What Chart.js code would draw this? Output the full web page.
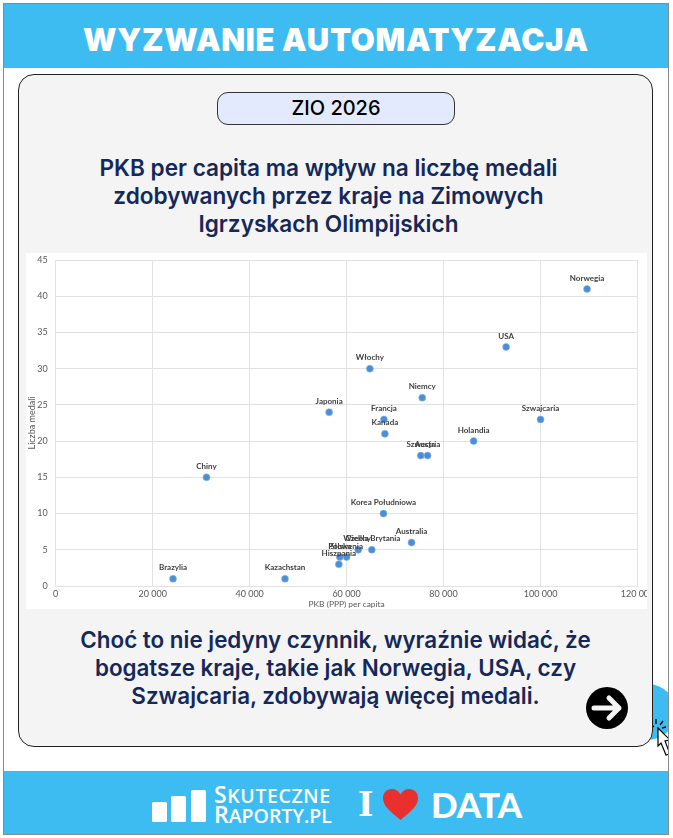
<!DOCTYPE html>
<html lang="pl">
<head>
<meta charset="UTF-8">
<title>Wyzwanie automatyzacja</title>
<script src="https://cdn.jsdelivr.net/npm/chart.js@4"></script>
<style>
    html, body { margin:0; padding:0; background:#fff; }
    #page { position:relative; width:673px; height:838px; overflow:hidden; font-family:Inter, sans-serif; }
    #page > * { position:absolute; box-sizing:border-box; }
    #frame { left:3px; top:3px; width:666px; height:832px; border:1px solid #8a8a8a; }
    #head { left:4px; top:4px; width:664px; height:64px; background:#3dbcf1; color:#fff; text-align:center;
            font-size:31px; font-weight:900; letter-spacing:0.7px; line-height:72px; white-space:nowrap; }
    #foot { left:4px; top:771px; width:664px; height:63px; background:#3dbcf1; }
    #clip { left:4px; top:670px; width:664px; height:95px; overflow:hidden; }
    #bubble { position:absolute; left:616px; top:14px; width:56px; height:56px; border-radius:50%; background:#3dbcf1; }
    #cursor { position:absolute; left:646px; top:48px; }
    #panel { left:18px; top:74px; width:635px; height:673px; background:#f4f4f4; border:1.5px solid #222; border-radius:16px; }
    #pill { left:217px; top:92px; width:238px; height:33px; background:#e4eafd; border:1.5px solid #333; border-radius:11px;
            text-align:center; font-size:20px; font-weight:500; line-height:31px; color:#000; }
    .txt { text-align:center; color:#14285a; font-weight:600; white-space:nowrap; }
    #t1 { left:11px; width:635px; top:154px; font-size:22.6px; line-height:28px; }
    #t2 { left:18px; width:635px; top:626px; font-size:22.4px; line-height:28px; }
    #box { left:26px; top:253px; width:621px; height:356px; background:#fff; }
    #chart1 { filter:blur(0.3px); }
    #arrow { left:586px; top:687px; }
    #bars { left:152px; top:790px; }
    #logo { left:214px; top:785px; color:#fff; font-family:"Open Sans", sans-serif; font-weight:600; font-size:19.5px; line-height:18px; white-space:nowrap; }
    #logo b { font-weight:600; font-size:23px; }
    #logo span { letter-spacing:0.6px; }
    #love { left:358px; top:783px; color:#fff; font-family:"DejaVu Serif", serif; font-weight:700; font-size:33px; line-height:44px; white-space:nowrap; }
    #heart { left:382px; top:788px; }
    #data { left:431px; top:782px; color:#fff; font-family:Lato, sans-serif; font-weight:900; font-size:35px; line-height:44px; white-space:nowrap; }
</style>
</head>
<body>
<div id="page">
    <div id="clip">
        <div id="bubble"></div>
        <svg id="cursor" width="24" height="40" viewBox="0 0 24 40">
            <path d="M8 10L20 22L15 23L20 36L16 37L11 25L8 28Z" fill="#fff" stroke="#000" stroke-width="1.2"/>
            <path d="M6 1V6M1 6L4 9M13 3L10 7M16 9L12 10" stroke="#000" stroke-width="1.3" fill="none"/>
        </svg>
    </div>
    <div id="head">WYZWANIE AUTOMATYZACJA</div>
    <div id="foot"></div>
    <div id="frame"></div>
    <div id="panel"></div>
    <div id="pill">ZIO 2026</div>
    <div class="txt" id="t1">PKB per capita ma wpływ na liczbę medali<br>zdobywanych przez kraje na Zimowych<br>Igrzyskach Olimpijskich</div>
    <div id="box"><canvas id="chart1" width="621" height="356"></canvas></div>
    <div class="txt" id="t2">Choć to nie jedyny czynnik, wyraźnie widać, że<br>bogatsze kraje, takie jak Norwegia, USA, czy<br>Szwajcaria, zdobywają więcej medali.</div>
    <svg id="arrow" width="42" height="42" viewBox="0 0 42 42">
        <circle cx="21" cy="21" r="21" fill="#000"/>
        <path d="M8 21H33M23 11L33 21L23 31" fill="none" stroke="#f4f4f4" stroke-width="5" stroke-linecap="round" stroke-linejoin="round"/>
    </svg>
    <svg id="bars" width="54" height="32" viewBox="0 0 54 32">
        <rect x="0" y="12" width="15" height="20" rx="1.5" fill="#fff"/>
        <rect x="19" y="6" width="15" height="26" rx="1.5" fill="#fff"/>
        <rect x="39" y="0" width="15" height="32" rx="1.5" fill="#fff"/>
    </svg>
    <div id="logo"><span><b>S</b>KUTECZNE</span><br><b>R</b>APORTY.PL</div>
    <div id="love">I</div>
    <svg id="heart" width="37" height="33" viewBox="0 0 38 36" preserveAspectRatio="none">
        <path d="M19 35C9 26 1 20 1 11C1 5 5 1 10 1C14 1 17 3 19 7C21 3 24 1 28 1C33 1 37 5 37 11C37 20 29 26 19 35Z" fill="#e8302e"/>
    </svg>
    <div id="data">DATA</div>
</div>

<script>
    const countries = ['Norwegia','USA','Włochy','Niemcy','Japonia','Francja','Szwajcaria','Kanada','Holandia','Szwecja','Austria','Chiny','Korea Południowa','Australia','Czechy','Wielka Brytania','Polska','Słowenia','Hiszpania','Brazylia','Kazachstan'];
    const gdp = [109600,92900,64800,75600,56400,67700,100000,67900,86200,75300,76700,31100,67600,73400,62400,65200,58600,60000,58400,24200,47300];
    const medals = [41,33,30,26,24,23,23,21,20,18,18,15,10,6,5,5,4,4,3,1,1];
    const xTicks = [0,20000,40000,60000,80000,100000,120000];
    const yTicks = [0,5,10,15,20,25,30,35,40,45];

    const points = gdp.map((g,i)=>({x:g, y:medals[i]}));
    const tickFont = {family:'Lato', size:9};
    const tickColor = '#595959';
    const gridColor = '#e2e2e2';

    // etykiety nad punktami, nakladaja sie tak samo jak w Excelu
    const pointLabels = {
        id:'pointLabels',
        afterDatasetsDraw(chart){
            const ctx = chart.ctx;
            const meta = chart.getDatasetMeta(0);
            ctx.save();
            ctx.font = 'bold 8px Lato';
            ctx.fillStyle = '#404040';
            ctx.textAlign = 'center';
            ctx.textBaseline = 'middle';
            meta.data.forEach((p,i)=>ctx.fillText(countries[i], p.x, p.y-11));
            ctx.restore();
        }
    };

    new Chart(document.getElementById('chart1').getContext('2d'), {
        type:'scatter',
        data:{
            datasets:[{
                data:points,
                pointRadius:3.5,
                pointHoverRadius:3.5,
                pointBackgroundColor:'#4a8fd6',
                pointBorderColor:'#8db8e2',
                pointBorderWidth:0.6
            }]
        },
        options:{
            responsive:false,
            animation:false,
            layout:{padding:{left:0, right:9.5, top:7, bottom:0}},
            plugins:{legend:{display:false}, tooltip:{enabled:false}},
            scales:{
                x:{
                    type:'linear', min:0, max:120000,
                    afterBuildTicks(axis){ axis.ticks = xTicks.map(v=>({value:v})); },
                    afterFit(axis){ axis.height = 23; axis.paddingLeft = 0; axis.paddingRight = 0; },
                    ticks:{
                        color:tickColor, font:tickFont, padding:3, maxRotation:0, autoSkip:false,
                        callback:v=>String(v).replace(/\B(?=(\d{3})+$)/g,' ')
                    },
                    grid:{color:gridColor, drawTicks:false},
                    border:{color:gridColor},
                    title:{display:true, text:'PKB (PPP) per capita', color:tickColor, font:{family:'Lato', size:8.4}, padding:0}
                },
                y:{
                    type:'linear', min:0, max:45,
                    afterBuildTicks(axis){ axis.ticks = yTicks.map(v=>({value:v})); },
                    afterFit(axis){ axis.width = 29.7; axis.paddingTop = 0; axis.paddingBottom = 0; },
                    ticks:{color:tickColor, font:tickFont, padding:8},
                    grid:{color:gridColor, drawTicks:false},
                    border:{color:gridColor},
                    title:{display:true, text:'Liczba medali', color:tickColor, font:tickFont, padding:1}
                }
            }
        },
        plugins:[pointLabels]
    });
</script>
</body>
</html>
